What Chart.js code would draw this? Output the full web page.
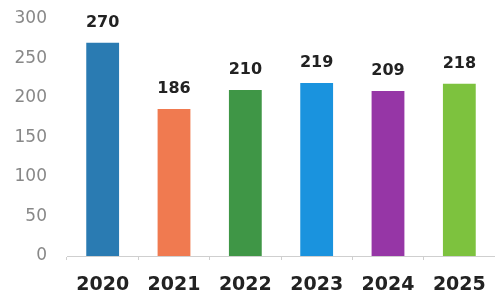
<!DOCTYPE html>
<html>
<head>
<meta charset="utf-8">
<script src="https://cdn.jsdelivr.net/npm/chart.js@4/dist/chart.umd.min.js"></script>
<style>
  html, body { margin: 0; padding: 0; background: #ffffff; }
  #wrap { width: 495px; height: 294px; position: relative; }
</style>
</head>
<body>
<div id="wrap"><canvas id="c"></canvas></div>
<script>
const categories = ["2020", "2021", "2022", "2023", "2024", "2025"];
const values = [270, 186, 210, 219, 209, 218];
const barColors = ["#2a7bb2", "#f07a50", "#3f9646", "#1a93de", "#9636a6", "#7dc23e"];
const yTicks = [0, 50, 100, 150, 200, 250, 300];

const valueLabels = {
  id: "valueLabels",
  afterDatasetsDraw(chart) {
    const ctx = chart.ctx;
    const meta = chart.getDatasetMeta(0);
    ctx.save();
    ctx.font = "bold 16px 'DejaVu Sans'";
    ctx.fillStyle = "#222222";
    ctx.textAlign = "center";
    ctx.textBaseline = "alphabetic";
    meta.data.forEach((bar, i) => {
      ctx.fillText(String(values[i]), bar.x, bar.y - 16);
    });
    ctx.restore();
  }
};

new Chart(document.getElementById("c"), {
  type: "bar",
  data: {
    labels: categories,
    datasets: [{
      data: values,
      backgroundColor: barColors,
      borderWidth: 0,
      categoryPercentage: 1,
      barPercentage: 0.46
    }]
  },
  options: {
    responsive: true,
    maintainAspectRatio: false,
    animation: false,
    layout: { padding: { top: 19, right: 0, left: 0, bottom: 0 } },
    plugins: { legend: { display: false }, tooltip: { enabled: false } },
    scales: {
      x: {
        grid: { display: true, drawOnChartArea: false, drawTicks: true, tickLength: 4, color: "#cfcfcf" },
        border: { display: true, color: "#cfcfcf", width: 1 },
        ticks: { color: "#222222", padding: 14, maxRotation: 0, font: { family: "DejaVu Sans", size: 19, weight: "bold" } },
        afterFit(scale) { scale.height = 38; scale.paddingLeft = 0; scale.paddingRight = 0; }
      },
      y: {
        min: 0,
        max: 300,
        afterBuildTicks(scale) { scale.ticks = yTicks.map(v => ({ value: v })); },
        grid: { display: false, drawTicks: false },
        border: { display: false },
        ticks: { color: "#888888", padding: 20, font: { family: "DejaVu Sans", size: 17 } },
        afterFit(scale) { scale.width = 67; scale.paddingTop = 0; scale.paddingBottom = 0; }
      }
    }
  },
  plugins: [valueLabels]
});
</script>
</body>
</html>
